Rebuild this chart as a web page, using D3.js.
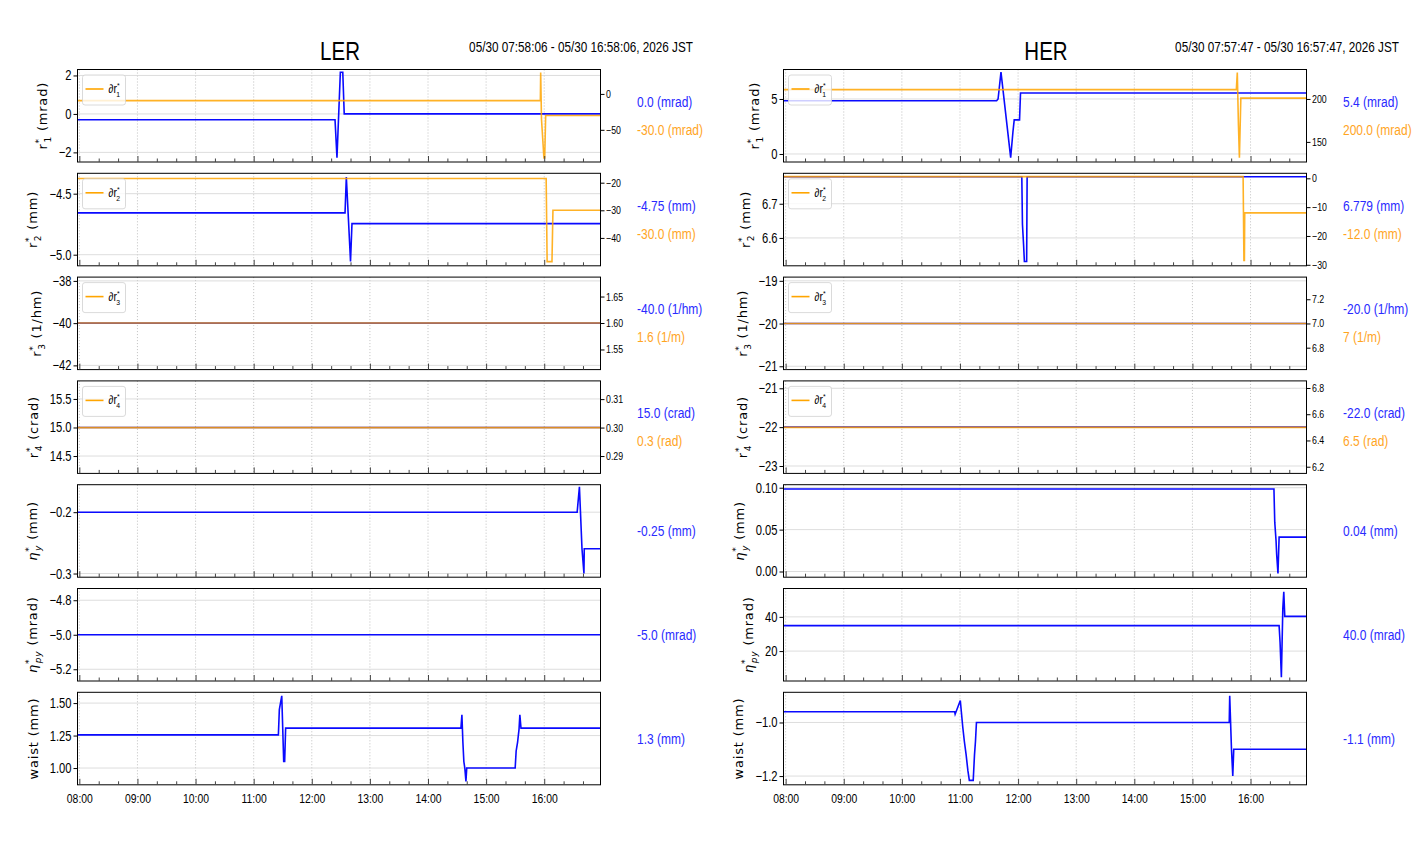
<!DOCTYPE html>
<html><head><meta charset="utf-8">
<script src="https://cdn.jsdelivr.net/npm/d3@7"></script>
<style>
body{margin:0;background:#fff;}
svg text{font-family:"Liberation Sans","DejaVu Sans",sans-serif;}
svg text.lab{font-family:"DejaVu Sans",sans-serif;}
</style></head><body>
<svg id="c" width="1412" height="864"></svg>
<script>
// ---------------- DATA: LER ----------------
const ler_r1_t  = ["07:58:06","12:24:00","12:26:00","12:29:30","12:32:00","12:33:30","16:58:06"];
const ler_r1_v  = [-0.30,-0.30,-2.28,2.17,2.17,0.0,0.0];
const ler_dr1_t = ["07:58:06","15:56:00","15:56:20","15:57:10","15:59:40","16:00:30","16:01:30","16:58:06"];
const ler_dr1_v = [-9.4,-9.4,29.8,-35,-89.2,-89.2,-30.0,-30.0];
const ler_r2_t  = ["07:58:06","12:34:20","12:35:40","12:40:00","12:41:30","16:58:06"];
const ler_r2_v  = [-4.657,-4.657,-4.363,-5.055,-4.745,-4.745];
const ler_dr2_t = ["07:58:06","16:02:00","16:03:00","16:08:00","16:09:00","16:58:06"];
const ler_dr2_v = [-18.5,-18.5,-48.6,-48.6,-30.0,-30.0];
const ler_r3_t  = ["07:58:06","16:58:06"];
const ler_r3_v  = [-40.0,-40.0];
const ler_dr3_v = [1.60,1.60];
const ler_r4_t  = ["07:58:06","16:58:06"];
const ler_r4_v  = [15.0,15.0];
const ler_dr4_v = [0.30,0.30];
const ler_ny_t  = ["07:58:06","16:34:00","16:36:20","16:39:00","16:41:00","16:41:20","16:58:06"];
const ler_ny_v  = [-0.20,-0.20,-0.1585,-0.26,-0.30,-0.2595,-0.2595];
const ler_npy_t = ["07:58:06","16:58:06"];
const ler_npy_v = [-5.0,-5.0];
const ler_w_t   = ["07:58:06","11:25:30","11:26:30","11:29:00","11:31:00","11:32:00","11:33:00","14:34:00","14:35:00","14:36:00","14:37:00","14:38:00","14:39:10","14:40:00","15:30:00","15:31:00","15:32:30","15:34:00","15:34:50","15:36:00","16:58:06"];
const ler_w_v   = [1.255,1.255,1.45,1.556,1.05,1.05,1.307,1.307,1.41,1.2,1.05,1.0,0.896,1.0,1.0,1.13,1.2,1.3,1.41,1.307,1.307];

// ---------------- DATA: HER ----------------
const her_r1_t  = ["07:57:47","11:37:50","11:39:20","11:42:20","11:52:20","11:54:40","11:56:00","12:01:30","12:02:30","16:57:47"];
const her_r1_v  = [4.84,4.84,5.0,7.44,-0.34,2.0,3.1,3.1,5.55,5.55];
const her_dr1_t = ["07:57:47","15:45:20","15:46:20","15:47:30","15:48:30","15:50:00","16:57:47"];
const her_dr1_v = [210.9,210.9,230.8,170,131.6,201,201];
const her_r2_t  = ["07:57:47","12:03:50","12:04:30","12:05:40","12:06:30","12:08:50","12:09:20","16:57:47"];
const her_r2_v  = [6.779,6.779,6.64,6.58,6.531,6.531,6.779,6.779];
const her_dr2_t = ["07:57:47","15:52:20","15:53:10","15:53:40","15:54:00","16:57:47"];
const her_dr2_v = [0.6,0.6,-28.5,-28.5,-12.0,-12.0];
const her_r3_t  = ["07:57:47","16:57:47"];
const her_r3_v  = [-20.0,-20.0];
const her_dr3_v = [7.0,7.0];
const her_r4_t  = ["07:57:47","16:57:47"];
const her_r4_v  = [-22.0,-22.0];
const her_dr4_v = [6.5,6.5];
const her_ny_t  = ["07:57:47","16:24:10","16:25:00","16:26:20","16:27:00","16:28:20","16:29:30","16:57:47"];
const her_ny_v  = [0.0985,0.0985,0.0589,0.037,0.02,-0.0024,0.041,0.041];
const her_npy_t = ["07:57:47","16:29:30","16:30:30","16:31:50","16:33:20","16:34:20","16:35:20","16:57:47"];
const her_npy_v = [34.9,34.9,25,4.7,45,54.7,40.3,40.3];
const her_w_t   = ["07:57:47","10:54:30","10:55:00","11:00:20","11:02:50","11:04:30","11:06:20","11:08:10","11:09:40","11:13:40","11:15:00","11:16:00","11:17:00","15:38:00","15:38:30","15:40:20","15:41:40","15:42:40","16:57:47"];
const her_w_v   = [-0.96,-0.96,-0.969,-0.918,-1.016,-1.07,-1.12,-1.18,-1.216,-1.216,-1.12,-1.07,-1.0,-1.0,-0.9,-1.1,-1.2,-1.1,-1.1];

// ---------------- TICKS / LABELS ----------------
const ler_ticks = [[-2,0,2],[-5.0,-4.5],[-42,-40,-38],[14.5,15.0,15.5],[-0.3,-0.2],[-5.2,-5.0,-4.8],[1.00,1.25,1.50]];
const ler_oticks = [[-50,0],[-40,-30,-20],[1.55,1.60,1.65],[0.29,0.30,0.31]];
const her_ticks = [[0,5],[6.6,6.7],[-21,-20,-19],[-23,-22,-21],[0.00,0.05,0.10],[20,40],[-1.2,-1.0]];
const her_oticks = [[150,200],[-30,-20,-10,0],[6.8,7.0,7.2],[6.2,6.4,6.6,6.8]];
const ler_values = ["0.0 (mrad)","-4.75 (mm)","-40.0 (1/hm)","15.0 (crad)","-0.25 (mm)","-5.0 (mrad)","1.3 (mm)"];
const ler_ovalues = ["-30.0 (mrad)","-30.0 (mm)","1.6 (1/m)","0.3 (rad)"];
const her_values = ["5.4 (mrad)","6.779 (mm)","-20.0 (1/hm)","-22.0 (crad)","0.04 (mm)","40.0 (mrad)","-1.1 (mm)"];
const her_ovalues = ["200.0 (mrad)","-12.0 (mm)","7 (1/m)","6.5 (rad)"];
const ylabels = [
  {m:"r",sub:"1",sup:"*",u:"(mrad)"},{m:"r",sub:"2",sup:"*",u:"(mm)"},{m:"r",sub:"3",sup:"*",u:"(1/hm)"},
  {m:"r",sub:"4",sup:"*",u:"(crad)"},{m:"η",sub:"y",sup:"*",u:"(mm)",it:true},{m:"η",sub:"py",sup:"*",u:"(mrad)",it:true},
  {m:"waist",u:"(mm)"}];

// ---------------- PANEL CONFIG ----------------
const lerPanels = [
 {bt:ler_r1_t,bv:ler_r1_v,ot:ler_dr1_t,ov:ler_dr1_v,yDom:[-2.5,2.31],oDom:[-94.8,34],yf:".0f",of:".0f"},
 {bt:ler_r2_t,bv:ler_r2_v,ot:ler_dr2_t,ov:ler_dr2_v,yDom:[-5.091,-4.333],oDom:[-50.1,-16.6],yf:".1f",of:".0f"},
 {bt:ler_r3_t,bv:ler_r3_v,ot:ler_r3_t,ov:ler_dr3_v,yDom:[-42.2,-37.82],oDom:[1.512,1.6867],yf:".0f",of:".2f"},
 {bt:ler_r4_t,bv:ler_r4_v,ot:ler_r4_t,ov:ler_dr4_v,yDom:[14.196,15.816],oDom:[0.2839,0.3164],yf:".1f",of:".2f"},
 {bt:ler_ny_t,bv:ler_ny_v,yDom:[-0.306,-0.1552],yf:".1f"},
 {bt:ler_npy_t,bv:ler_npy_v,yDom:[-5.268,-4.732],yf:".1f"},
 {bt:ler_w_t,bv:ler_w_v,yDom:[0.871,1.583],yf:".2f"}
];
const herPanels = [
 {bt:her_r1_t,bv:her_r1_v,ot:her_dr1_t,ov:her_dr1_v,yDom:[-0.73,7.68],oDom:[126.6,234.3],yf:".0f",of:".0f"},
 {bt:her_r2_t,bv:her_r2_v,ot:her_dr2_t,ov:her_dr2_v,yDom:[6.5185,6.789],oDom:[-30.35,1.74],yf:".1f",of:".0f"},
 {bt:her_r3_t,bv:her_r3_v,ot:her_r3_t,ov:her_dr3_v,yDom:[-21.078,-18.913],oDom:[6.619,7.383],yf:".0f",of:".1f"},
 {bt:her_r4_t,bv:her_r4_v,ot:her_r4_t,ov:her_dr4_v,yDom:[-23.19,-20.81],oDom:[6.149,6.854],yf:".0f",of:".1f"},
 {bt:her_ny_t,bv:her_ny_v,yDom:[-0.0068,0.1036],yf:".2f"},
 {bt:her_npy_t,bv:her_npy_v,yDom:[2.5,56.6],yf:".0f"},
 {bt:her_w_t,bv:her_w_v,yDom:[-1.2326,-0.8874],yf:".1f"}
];
lerPanels.forEach((p,i)=>{p.ticks=ler_ticks[i];p.val=ler_values[i];if(p.ot){p.oticks=ler_oticks[i];p.oval=ler_ovalues[i];}});
herPanels.forEach((p,i)=>{p.ticks=her_ticks[i];p.val=her_values[i];if(p.ot){p.oticks=her_oticks[i];p.oval=her_ovalues[i];}});

const cols = [
 {name:"LER",date:"05/30 07:58:06 - 05/30 16:58:06, 2026 JST",dom:["07:58:06","16:58:06"],x0:77.5,x1:600.5,panels:lerPanels,valX:637,dateX:693},
 {name:"HER",date:"05/30 07:57:47 - 05/30 16:57:47, 2026 JST",dom:["07:57:47","16:57:47"],x0:783.5,x1:1306.5,panels:herPanels,valX:1343,dateX:1399}
];

// ---------------- DRAW ----------------
const P = d3.timeParse("%H:%M:%S");
const svg = d3.select("#c");
const plotH = 92.5;
const tops = d3.range(7).map(i=>69.5+i*103.8);
const BLUE = "#0a0aff", ORANGE = "#ffa500";
const NARROW = 0.8;

function ntext(parent, x, y, str, size, anchor, fill, sx){
  return parent.append("text").attr("transform",`translate(${x},${y}) scale(${sx||NARROW},1)`)
    .attr("text-anchor",anchor||"start").style("font-size",size+"px").attr("fill",fill||"#000").text(str);
}
function narrowTicks(axisG){
  axisG.selectAll("text").each(function(){
    const t = d3.select(this);
    const xx = +t.attr("x")||0;
    t.attr("x",0).attr("transform",`translate(${xx},0) scale(${NARROW},1)`);
  });
}
function supsub(t, o, small, up, down){
  t.append("tspan").text(o.m).style("font-style",o.it?"italic":null);
  if(o.sup){
    t.append("tspan").attr("dy",-up).style("font-size",small+"px").text(o.sup);
    t.append("tspan").attr("dx",-small*0.5).attr("dy",up+down).style("font-size",small+"px").style("font-style",o.it?"italic":null).text(o.sub);
    t.append("tspan").attr("dy",-down).text(o.u ? " "+o.u : "");
  } else {
    t.append("tspan").text(o.u ? " "+o.u : "");
  }
}

cols.forEach(col=>{
  const x = d3.scaleTime().domain(col.dom.map(P)).range([col.x0,col.x1]);
  const hours = d3.timeHour.every(1).range(x.domain()[0], x.domain()[1]);
  const minors = d3.timeMinute.every(20).range(x.domain()[0], x.domain()[1]).filter(d=>d.getMinutes()!==0);
  const cx = (col.x0+col.x1)/2;
  ntext(svg, cx+1, 60, col.name, 25, "middle", "#000", 0.82);
  ntext(svg, col.dateX, 52, col.date, 14, "end", "#000", 0.84);

  col.panels.forEach((p,i)=>{
    const top = tops[i], bot = top+plotH;
    const y = d3.scaleLinear().domain(p.yDom).range([bot,top]);
    const g = svg.append("g");
    const cid = "clip"+col.name+i;
    svg.append("clipPath").attr("id",cid).append("rect").attr("x",col.x0).attr("y",top).attr("width",col.x1-col.x0).attr("height",plotH);
    // grid
    g.selectAll(".vg").data(hours).join("line").attr("x1",d=>x(d)).attr("x2",d=>x(d)).attr("y1",top).attr("y2",bot)
      .attr("stroke","#b0b0b0").attr("stroke-width",0.8).attr("stroke-dasharray","1,2");
    g.selectAll(".hg").data(p.ticks).join("line").attr("x1",col.x0).attr("x2",col.x1).attr("y1",d=>y(d)).attr("y2",d=>y(d))
      .attr("stroke","#d4d4d4").attr("stroke-width",0.8);
    const line = d3.line().x(d=>x(d[0])).y(d=>d[1]);
    const data = g.append("g").attr("clip-path",`url(#${cid})`);
    data.append("path").datum(d3.zip(p.bt.map(P), p.bv.map(v=>y(v)))).attr("d",line)
      .attr("fill","none").attr("stroke",BLUE).attr("stroke-width",1.6);
    let y2 = null;
    if(p.ot){
      y2 = d3.scaleLinear().domain(p.oDom).range([bot,top]);
      data.append("path").datum(d3.zip(p.ot.map(P), p.ov.map(v=>y2(v)))).attr("d",line)
        .attr("fill","none").attr("stroke",ORANGE).attr("stroke-opacity",0.85).attr("stroke-width",1.6);
    }
    // spines
    g.append("rect").attr("x",col.x0).attr("y",top).attr("width",col.x1-col.x0).attr("height",plotH)
      .attr("fill","none").attr("stroke","#000").attr("stroke-width",1);
    // x ticks (inward)
    const xa = g.append("g").attr("transform",`translate(0,${bot})`)
      .call(d3.axisBottom(x).tickValues(hours).tickSize(-6).tickPadding(9).tickFormat(i===6?d3.timeFormat("%H:%M"):()=>""));
    xa.select(".domain").remove();
    xa.selectAll("text").style("font-size","13px").attr("fill","#000");
    narrowTicks(xa);
    xa.selectAll("line").attr("stroke","#444");
    const xm = g.append("g").attr("transform",`translate(0,${bot})`)
      .call(d3.axisBottom(x).tickValues(minors).tickSize(-3.5).tickFormat(()=>""));
    xm.select(".domain").remove();
    xm.selectAll("line").attr("stroke","#444");
    // left y
    const ya = g.append("g").attr("transform",`translate(${col.x0},0)`)
      .call(d3.axisLeft(y).tickValues(p.ticks).tickSize(4).tickPadding(2).tickFormat(d3.format(p.yf)));
    ya.select(".domain").remove();
    ya.selectAll("text").style("font-size","14px").attr("fill","#000");
    narrowTicks(ya);
    let minX = 0;
    ya.selectAll("text").each(function(){ const b=this.getBBox(); minX = Math.min(minX, -6 - b.width*NARROW); });
    // y label
    const lt = g.append("text").attr("class","lab")
      .attr("transform",`translate(${col.x0+minX-12},${top+plotH/2}) rotate(-90)`)
      .attr("text-anchor","middle").style("font-size","13px").style("letter-spacing","0.8px");
    supsub(lt, ylabels[i], 9, 5, 4);
    // right y + legend
    if(y2){
      const yr = g.append("g").attr("transform",`translate(${col.x1},0)`)
        .call(d3.axisRight(y2).tickValues(p.oticks).tickSize(4).tickPadding(1.5).tickFormat(d3.format(p.of)));
      yr.select(".domain").remove();
      yr.selectAll("text").style("font-size","11px").attr("fill","#000");
      narrowTicks(yr);
      const lg = g.append("g").attr("transform",`translate(${col.x0+5},${top+5.5})`);
      lg.append("rect").attr("width",43).attr("height",30).attr("rx",2.5)
        .attr("fill","#fff").attr("fill-opacity",0.8).attr("stroke","#d0d0d0").attr("stroke-width",0.8);
      lg.append("line").attr("x1",3).attr("x2",21).attr("y1",14).attr("y2",14).attr("stroke",ORANGE).attr("stroke-width",1.6);
      const ltx = lg.append("text").attr("transform","translate(26,18) scale(0.85,1)").style("font-size","12px");
      supsub(ltx, {m:"∂r",sub:String(i+1),sup:"*"}, 8, 5, 4);
      ntext(g, col.valX, top+plotH/2-9, p.val, 15, "start", "#2a2aff");
      ntext(g, col.valX, top+plotH/2+19, p.oval, 15, "start", "#ffa51f");
    } else {
      ntext(g, col.valX, top+plotH/2+5, p.val, 15, "start", "#2a2aff");
    }
  });
});
</script>
</body></html>
